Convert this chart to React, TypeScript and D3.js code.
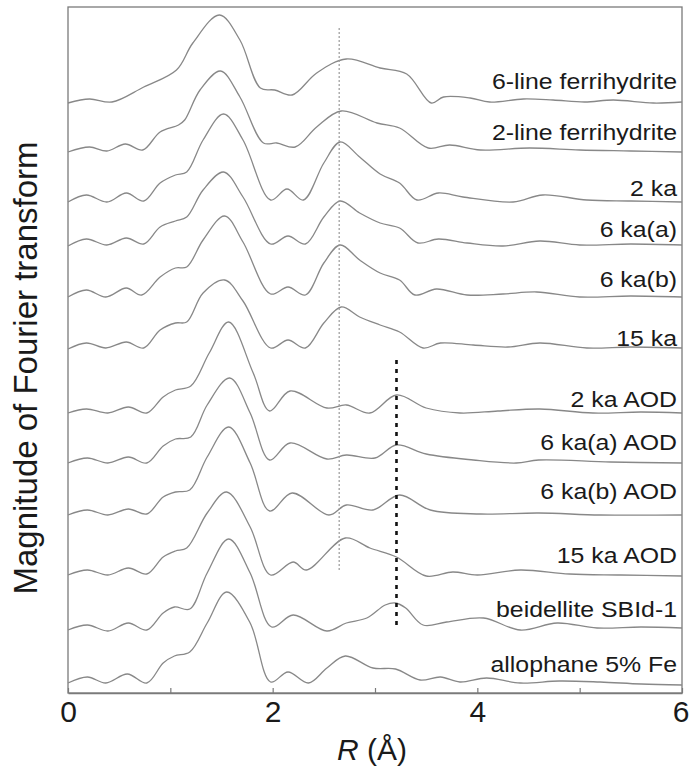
import React, { useEffect, useRef } from 'react'
import * as d3 from 'd3'

// |FT| curves, [R (Å), stacked magnitude]
const sixLineFh = [[0,59.0],[0.21,59.4],[0.43,59.1],[0.74,60.6],[1.06,62.3],[1.22,65.0],[1.48,67.8],[1.68,65.3],[1.88,60.5],[2.02,60.3],[2.19,59.8],[2.43,62.0],[2.72,63.4],[3.05,62.5],[3.31,61.9],[3.55,59.0],[3.67,59.6],[3.93,59.5],[4.12,59.1],[4.45,59.4],[4.74,59.3],[5.05,59.1],[5.33,59.3],[5.72,59.0],[6.0,59.1]]
const twoLineFh = [[0,54.1],[0.21,54.6],[0.38,54.2],[0.56,54.9],[0.73,54.3],[0.90,56.1],[1.08,56.8],[1.14,57.3],[1.29,60.3],[1.49,62.2],[1.68,59.6],[1.91,55.0],[2.04,55.0],[2.22,54.6],[2.43,56.6],[2.67,58.2],[3.02,57.0],[3.24,56.5],[3.52,54.5],[3.73,54.8],[4.03,54.3],[4.51,54.5],[5.0,54.3],[5.5,54.2],[6.0,54.1]]
const twoKa = [[0,49.1],[0.18,49.8],[0.38,49.1],[0.57,50.0],[0.74,49.2],[0.90,51.0],[1.05,51.8],[1.16,52.1],[1.32,55.3],[1.52,57.9],[1.71,55.3],[1.98,49.3],[2.14,50.4],[2.30,49.3],[2.50,53.0],[2.66,55.1],[2.85,53.6],[3.05,51.9],[3.24,51.0],[3.41,49.3],[3.62,50.0],[3.86,49.6],[4.35,49.1],[4.64,49.8],[5.07,49.3],[5.5,49.2],[6.0,49.1]]
const sixKaA = [[0,44.7],[0.18,45.4],[0.38,44.8],[0.57,45.5],[0.74,44.9],[0.90,46.6],[1.05,47.2],[1.16,47.6],[1.32,50.3],[1.52,52.1],[1.71,49.6],[1.98,44.9],[2.15,45.7],[2.32,44.9],[2.50,47.6],[2.66,49.2],[2.85,48.0],[3.05,47.0],[3.24,46.5],[3.42,45.0],[3.62,45.4],[3.90,45.0],[4.25,44.7],[4.61,45.2],[5.0,44.8],[5.5,44.9],[6.0,44.8]]
const sixKaB = [[0,39.6],[0.18,40.3],[0.37,39.6],[0.57,40.5],[0.72,39.8],[0.90,41.6],[1.05,42.5],[1.16,42.6],[1.32,45.3],[1.53,47.7],[1.71,45.1],[1.98,39.9],[2.15,40.6],[2.32,39.8],[2.50,43.0],[2.66,44.8],[2.85,43.3],[3.05,42.0],[3.24,41.3],[3.39,39.8],[3.60,40.4],[3.90,39.8],[4.25,39.9],[4.58,40.1],[5.0,39.6],[5.5,39.7],[6.0,39.6]]
const fifteenKa = [[0,34.4],[0.18,35.0],[0.37,34.5],[0.57,35.1],[0.74,34.5],[0.90,36.3],[1.05,37.0],[1.16,37.1],[1.32,40.0],[1.53,41.3],[1.71,39.2],[1.98,34.5],[2.15,35.3],[2.32,34.5],[2.50,37.0],[2.67,38.6],[2.85,37.6],[3.05,36.8],[3.24,36.1],[3.47,34.5],[3.64,35.0],[3.96,34.8],[4.3,34.6],[4.61,35.0],[5.07,34.5],[5.5,34.6],[6.0,34.5]]
const twoKaAod = [[0,28.0],[0.18,28.4],[0.39,28.0],[0.59,28.6],[0.77,28.0],[0.93,29.6],[1.05,30.3],[1.2,30.7],[1.38,34.0],[1.57,37.1],[1.81,32.0],[1.97,28.2],[2.17,30.2],[2.53,28.5],[2.72,28.8],[2.95,28.0],[3.21,29.8],[3.5,28.5],[3.83,28.0],[4.2,28.2],[4.61,28.4],[5.13,28.0],[5.6,28.1],[6.0,28.0]]
const sixKaAAod = [[0,23.0],[0.19,23.5],[0.39,23.0],[0.59,23.6],[0.77,23.0],[0.93,24.7],[1.05,25.4],[1.2,25.6],[1.36,28.8],[1.58,31.5],[1.78,28.0],[1.97,23.3],[2.17,25.0],[2.53,23.4],[2.72,23.8],[3.0,23.5],[3.21,24.8],[3.5,23.9],[3.96,23.3],[4.38,23.0],[4.6,23.3],[5.3,23.1],[6.0,23.0]]
const sixKaBAod = [[0,17.8],[0.19,18.3],[0.39,17.8],[0.59,18.4],[0.77,17.9],[0.93,19.6],[1.05,20.1],[1.19,20.3],[1.36,23.6],[1.57,26.6],[1.78,23.0],[1.97,18.2],[2.19,20.0],[2.55,17.8],[2.72,18.8],[2.98,18.3],[3.24,19.8],[3.54,18.3],[4.03,17.9],[4.6,18.0],[5.2,17.8],[6.0,17.8]]
const fifteenKaAod = [[0,11.8],[0.19,12.3],[0.39,11.8],[0.59,12.5],[0.77,11.9],[0.93,13.6],[1.05,14.2],[1.16,14.5],[1.36,18.0],[1.55,20.1],[1.78,16.6],[1.98,11.8],[2.2,13.1],[2.33,12.3],[2.71,15.5],[2.95,14.5],[3.21,13.6],[3.5,11.7],[3.76,12.1],[4.0,11.8],[4.42,12.3],[4.9,11.9],[5.4,11.8],[6.0,11.7]]
const beidellite = [[0,6.3],[0.19,6.8],[0.39,6.2],[0.59,7.0],[0.77,6.3],[0.93,8.0],[1.04,8.6],[1.19,8.4],[1.36,12.0],[1.57,15.4],[1.78,12.0],[1.99,6.6],[2.2,7.8],[2.53,6.2],[2.72,7.0],[2.92,7.5],[3.1,8.8],[3.2,9.0],[3.3,8.5],[3.47,6.8],[3.7,7.1],[4.06,7.5],[4.42,6.3],[4.78,7.0],[5.17,6.5],[5.6,6.6],[6.0,6.5]]
const allophane = [[0,1.0],[0.19,1.6],[0.37,1.0],[0.58,1.9],[0.77,1.0],[0.93,3.0],[1.04,3.7],[1.19,4.1],[1.36,7.0],[1.55,10.1],[1.78,7.0],[1.98,1.1],[2.15,2.1],[2.35,1.0],[2.53,2.5],[2.71,3.7],[2.98,2.5],[3.2,2.4],[3.44,1.3],[3.64,1.6],[3.83,1.1],[4.09,1.5],[4.42,1.0],[4.8,1.2],[5.2,1.1],[5.6,0.9],[6.0,0.8]]

const series = [sixLineFh, twoLineFh, twoKa, sixKaA, sixKaB, fifteenKa, twoKaAod, sixKaAAod, sixKaBAod, fifteenKaAod, beidellite, allophane]
const sampleNames = ['6-line ferrihydrite', '2-line ferrihydrite', '2 ka', '6 ka(a)', '6 ka(b)', '15 ka', '2 ka AOD', '6 ka(a) AOD', '6 ka(b) AOD', '15 ka AOD', 'beidellite SBId-1', 'allophane 5% Fe']
// level (same units as the curves) where each name sits
const nameLevels = [60.4, 55.3, 49.7, 45.6, 40.6, 34.7, 28.6, 24.3, 19.4, 13.0, 7.6, 2.1]

const xTicks = [0, 1, 2, 3, 4, 5, 6]
// reference lines: [R, from, to]
const feFeLine = [2.65, 12.3, 66.5]
const feSiLine = [3.21, 6.5, 33.3]

const FONT = '"Liberation Sans", Arial, sans-serif'

export default function App() {
  const ref = useRef<SVGSVGElement>(null)

  useEffect(() => {
    const svg = d3.select(ref.current)
    svg.selectAll('*').remove()

    const x = d3.scaleLinear().domain([0, 6]).range([68, 682])
    const y = d3.scaleLinear().domain([0, 68.6]).range([693, 7])

    // frame
    svg.append('rect')
      .attr('x', x(0)).attr('y', y(68.6))
      .attr('width', x(6) - x(0)).attr('height', y(0) - y(68.6))
      .attr('fill', 'none').attr('stroke', '#7a7a7a').attr('stroke-width', 1.3)

    const line = d3.line<number[]>()
      .x(d => x(d[0]))
      .y(d => y(d[1]))
      .curve(d3.curveCatmullRom.alpha(0.5))

    svg.append('g').selectAll('path')
      .data(series)
      .join('path')
      .attr('d', d => line(d))
      .attr('fill', 'none')
      .attr('stroke', '#888')
      .attr('stroke-width', 1.3)

    svg.append('line')
      .attr('x1', x(feFeLine[0])).attr('x2', x(feFeLine[0]))
      .attr('y1', y(feFeLine[2])).attr('y2', y(feFeLine[1]))
      .attr('stroke', '#9a9a9a').attr('stroke-width', 1.2)
      .attr('stroke-dasharray', '2,2')

    svg.append('line')
      .attr('x1', x(feSiLine[0])).attr('x2', x(feSiLine[0]))
      .attr('y1', y(feSiLine[2])).attr('y2', y(feSiLine[1]))
      .attr('stroke', '#111').attr('stroke-width', 2.6)
      .attr('stroke-dasharray', '4,5')

    // sample names
    svg.append('g').selectAll('text')
      .data(sampleNames)
      .join('text')
      .attr('transform', (d, i) => `translate(677,${y(nameLevels[i])}) scale(1.13,1)`)
      .attr('text-anchor', 'end')
      .attr('font-family', FONT)
      .attr('font-size', 22)
      .attr('fill', '#1a1a1a')
      .text(d => d)

    // x axis
    const xAxis = d3.axisBottom(x)
      .tickValues(xTicks)
      .tickSize(-5)
      .tickSizeOuter(0)
      .tickPadding(8)
      .tickFormat(d => (+d % 2 === 0 ? String(d) : ''))

    const gx = svg.append('g')
      .attr('transform', `translate(0,${y(0)})`)
      .call(xAxis)
    gx.select('.domain').attr('stroke', '#7a7a7a').attr('stroke-width', 1.3)
    gx.selectAll('.tick line').attr('stroke', '#7a7a7a').attr('stroke-width', 1.2)
    gx.selectAll('.tick text')
      .attr('font-family', FONT)
      .attr('font-size', 30)
      .attr('fill', '#1a1a1a')
    // last label sits against the page edge
    gx.selectAll('.tick text').filter(d => d === 6).attr('text-anchor', 'end').attr('x', 7)

    const xl = svg.append('text')
      .attr('x', 372).attr('y', 760)
      .attr('text-anchor', 'middle')
      .attr('font-family', FONT)
      .attr('font-size', 30)
      .attr('fill', '#1a1a1a')
    xl.append('tspan').attr('font-style', 'italic').text('R')
    xl.append('tspan').text(' (Å)')

    svg.append('text')
      .attr('transform', 'translate(37,368) rotate(-90)')
      .attr('text-anchor', 'middle')
      .attr('font-family', FONT)
      .attr('font-size', 33)
      .attr('fill', '#1a1a1a')
      .text('Magnitude of Fourier transform')
  }, [])

  return (
    <svg
      ref={ref}
      width={689}
      height={766}
      style={{ position: 'absolute', left: 0, top: 0, background: '#fff' }}
    />
  )
}
